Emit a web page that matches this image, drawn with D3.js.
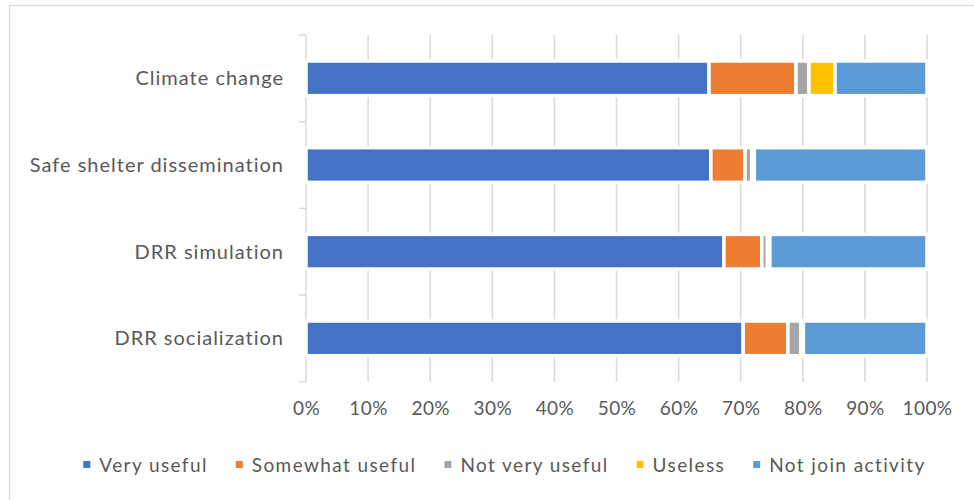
<!DOCTYPE html>
<html>
<head>
<meta charset="utf-8">
<script src="https://cdn.jsdelivr.net/npm/d3@7"></script>
<style>
  body { margin: 0; background: #fff; }
  text { font-family: Lato, "Open Sans", sans-serif; fill: #595959; }
</style>
</head>
<body>
<div id="chart"></div>
<script>
// chart data
var categories = ["Climate change", "Safe shelter dissemination", "DRR simulation", "DRR socialization"];
var seriesNames = ["Very useful", "Somewhat useful", "Not very useful", "Useless", "Not join activity"];
var veryUseful = [64.9, 65.2, 67.3, 70.4];
var somewhatUseful = [14.0, 5.5, 6.1, 7.2];
var notVeryUseful = [2.1, 1.1, 0.9, 2.1];
var useless = [4.2, 0.4, 0.4, 0.4];
var notJoin = [14.8, 27.8, 25.3, 19.9];
var xTicks = [0, 10, 20, 30, 40, 50, 60, 70, 80, 90, 100];
var colors = ["#4472C4", "#ED7D31", "#A5A5A5", "#FFC000", "#5B9BD5"];

var svgWidth = 974;
var svgHeight = 500;

var margin = { top: 35, right: 47, bottom: 118.3, left: 306 };
var width = svgWidth - margin.left - margin.right;
var height = svgHeight - margin.top - margin.bottom;

var svg = d3.select("#chart")
  .append("svg")
  .attr("width", svgWidth)
  .attr("height", svgHeight);

// chart border (only top and left edges show in the picture)
svg.append("rect")
  .attr("x", 9.5)
  .attr("y", 5.5)
  .attr("width", 1000)
  .attr("height", 600)
  .attr("fill", "none")
  .attr("stroke", "#D9D9D9")
  .attr("stroke-width", 1.3);

var chartGroup = svg.append("g")
  .attr("transform", `translate(${margin.left}, ${margin.top})`);

// build rows
var rows = categories.map(function(c, i) {
  return {
    category: c,
    "Very useful": veryUseful[i],
    "Somewhat useful": somewhatUseful[i],
    "Not very useful": notVeryUseful[i],
    "Useless": useless[i],
    "Not join activity": notJoin[i]
  };
});

var stack = d3.stack().keys(seriesNames);
var stacked = stack(rows);

var xScale = d3.scaleLinear().domain([0, 100]).range([0, width]);
var yScale = d3.scaleBand().domain(categories).range([0, height])
  .paddingInner(0.6).paddingOuter(0.3);
var yBands = d3.scaleBand().domain(categories).range([0, height]);

// gridlines
chartGroup.append("g")
  .selectAll("line")
  .data(xTicks.slice(1))
  .enter()
  .append("line")
  .attr("x1", d => xScale(d))
  .attr("x2", d => xScale(d))
  .attr("y1", 0)
  .attr("y2", height)
  .attr("stroke", "#D9D9D9")
  .attr("stroke-width", 1.5);

// x axis labels
var bottomAxis = d3.axisBottom(xScale)
  .tickValues(xTicks)
  .tickFormat(d => d + "%")
  .tickSize(0)
  .tickPadding(20);
var xAxis = chartGroup.append("g")
  .attr("transform", `translate(0, ${height})`)
  .call(bottomAxis);
xAxis.select(".domain").remove();
xAxis.selectAll("text")
  .attr("font-size", "19px")
  .attr("fill", "#595959")
  .style("letter-spacing", "0.4px")
  .style("font-family", "Lato, sans-serif");

// y axis with ticks at category boundaries
chartGroup.append("line")
  .attr("x1", 0).attr("x2", 0)
  .attr("y1", 0).attr("y2", height)
  .attr("stroke", "#D9D9D9")
  .attr("stroke-width", 1.5);
var bounds = categories.map(c => yBands(c)).concat([height]);
chartGroup.append("g")
  .selectAll("line")
  .data(bounds)
  .enter()
  .append("line")
  .attr("x1", -7).attr("x2", 0)
  .attr("y1", d => d).attr("y2", d => d)
  .attr("stroke", "#D9D9D9")
  .attr("stroke-width", 1.5);

chartGroup.append("g")
  .selectAll("text")
  .data(categories)
  .enter()
  .append("text")
  .attr("x", -22)
  .attr("y", d => yBands(d) + yBands.bandwidth() / 2)
  .attr("dy", "0.35em")
  .attr("text-anchor", "end")
  .attr("font-size", "20px")
  .style("letter-spacing", "1px")
  .text(d => d);

// bars
chartGroup.append("g")
  .selectAll("g")
  .data(stacked)
  .enter()
  .append("g")
  .attr("fill", (d, i) => colors[i])
  .selectAll("rect")
  .data(d => d)
  .enter()
  .append("rect")
  .attr("x", d => xScale(d[0]))
  .attr("width", d => xScale(d[1]) - xScale(d[0]))
  .attr("y", d => yScale(d.data.category))
  .attr("height", yScale.bandwidth())
  .attr("stroke", "#fff")
  .attr("stroke-width", 3.5);

// legend
var legend = svg.append("g").attr("transform", "translate(0, 465)");
var items = legend.selectAll("g")
  .data(seriesNames)
  .enter()
  .append("g");
items.append("rect")
  .attr("x", 0)
  .attr("y", -4)
  .attr("width", 7)
  .attr("height", 7)
  .attr("fill", (d, i) => colors[i]);
items.append("text")
  .attr("x", 16)
  .attr("dy", "0.35em")
  .attr("font-size", "19px")
  .style("letter-spacing", "1.4px")
  .text(d => d);

var widths = [];
items.each(function() {
  widths.push(d3.select(this).select("text").node().getComputedTextLength() + 16);
});
var gap = 28;
var total = d3.sum(widths) + gap * (widths.length - 1);
var xPos = 504.5 - total / 2;
items.attr("transform", function(d, i) {
  var t = `translate(${xPos}, 0)`;
  xPos += widths[i] + gap;
  return t;
});
</script>
</body>
</html>
